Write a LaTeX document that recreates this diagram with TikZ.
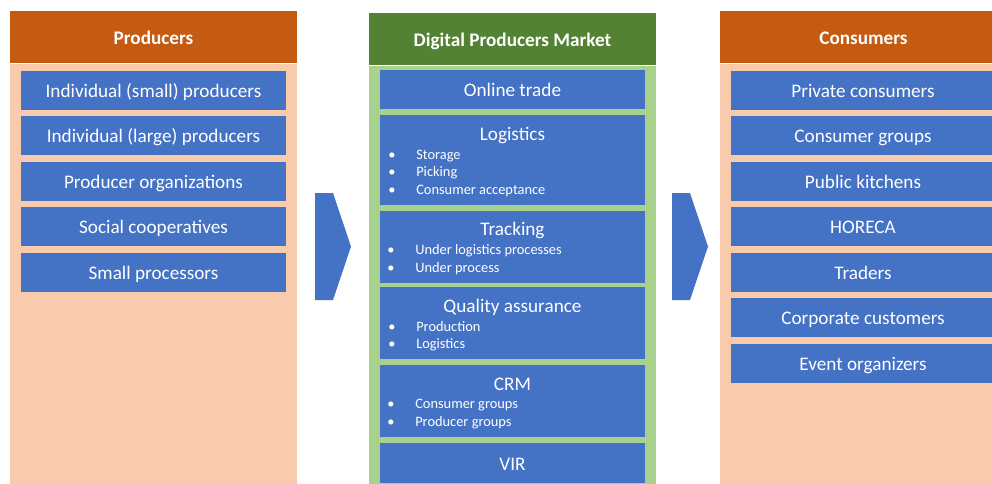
\documentclass[tikz,border=0pt]{standalone}
\usepackage{fontspec}
\setmainfont{Carlito}
\usetikzlibrary{positioning}
\usepackage{xcolor}
\definecolor{headorange}{HTML}{C55A11}
\definecolor{headgreen}{HTML}{548235}
\definecolor{bodypeach}{HTML}{F8CBAD}
\definecolor{bodygreen}{HTML}{A9D18E}
\definecolor{itemblue}{HTML}{4472C4}
\def\colsep{45.5}

\begin{document}
\begin{tikzpicture}[x=0.75pt, y=-0.75pt, node distance=0pt, font=\fontsize{14.4}{17}\selectfont]
    \tikzstyle{column}=[rectangle, inner sep=0pt, minimum width=215.25pt]
    \tikzstyle{header}=[column, minimum height=39pt, text=white, text height=13.7pt, text depth=2.8pt, font=\fontsize{14.4}{17}\selectfont\bfseries]
    \tikzstyle{body}=[column, minimum height=330pt]
    \tikzstyle{item}=[rectangle, fill=itemblue, text=white, inner sep=0pt, text height=13.7pt, text depth=2.8pt, minimum width=198.75pt, minimum height=29.25pt]
    \tikzstyle{task title}=[text=white, inner sep=0pt, anchor=base]
    \tikzstyle{point}=[text=white, inner sep=0pt, anchor=base west, font=\fontsize{10.8}{13}\selectfont]
    \tikzstyle{chevron}=[fill=itemblue]

    \useasboundingbox (0,0) rectangle (992,483);
    \clip (0,0) rectangle (992,483);

    % Draw the three column heads and their bodies
    \node[header, fill=headorange] (prod) at (153.5,37) {Producers};
    \node[body, fill=bodypeach, below=of prod] (prodbody) {};
    \node[header, fill=headgreen] (mkt) at (512.5,39) {Digital Producers Market};
    \node[body, fill=bodygreen, below=of mkt] (mktbody) {};
    \node[header, fill=headorange] (cons) at (863.5,37) {Consumers};
    \node[body, fill=bodypeach, below=of cons] (consbody) {};

    % Producers
    \foreach \txt [count=\i] in {Individual (small) producers, Individual (large) producers,
            Producer organizations, Social cooperatives, Small processors}
        \node[item] (P-\i) at (153.5, 44.5+\colsep*\i) {\txt};

    % Consumers
    \foreach \txt [count=\i] in {Private consumers, Consumer groups, Public kitchens,
            HORECA, Traders, Corporate customers, Event organizers}
        \node[item] (C-\i) at (863, 44.5+\colsep*\i) {\txt};

    % Arrows between the columns
    \fill[chevron] (315,193) -- (333,193) -- (351,246.5) -- (333,300) -- (315,300) -- cycle;
    \fill[chevron] (672,193) -- (690,193) -- (708,246.5) -- (690,300) -- (672,300) -- cycle;

    % Market blocks
    \node[item] (M-1) at (512.5,89.5) {Online trade};

    \node[item, minimum height=67.5pt] (M-2) at (512.5,160) {};
    \node[task title] (M-2-t) at (512.5,140) {Logistics};
    \foreach \txt [count=\i] in {Storage, Picking, Consumer acceptance}
        \node[point] (M-2-\i) at (388, 141.5+17.5*\i) {\makebox[21pt][l]{\textbullet}\txt};

    \node[item, minimum height=54pt] (M-3) at (512.5,247) {};
    \node[task title] (M-3-t) at (512.5,235) {Tracking};
    \foreach \txt [count=\i] in {Under logistics processes, Under process}
        \node[point] (M-3-\i) at (387, 236+18*\i) {\makebox[21pt][l]{\textbullet}\txt};

    \node[item, minimum height=54pt] (M-4) at (512.5,323) {};
    \node[task title] (M-4-t) at (512.5,312) {Quality assurance};
    \foreach \txt [count=\i] in {Production, Logistics}
        \node[point] (M-4-\i) at (388, 313.5+17.5*\i) {\makebox[21pt][l]{\textbullet}\txt};

    \node[item, minimum height=54pt] (M-5) at (512.5,401) {};
    \node[task title] (M-5-t) at (512.5,390) {CRM};
    \foreach \txt [count=\i] in {Consumer groups, Producer groups}
        \node[point] (M-5-\i) at (387, 390+18*\i) {\makebox[21pt][l]{\textbullet}\txt};

    \node[item, minimum height=30pt] (M-6) at (512.5,463) {VIR};
\end{tikzpicture}
\end{document}
